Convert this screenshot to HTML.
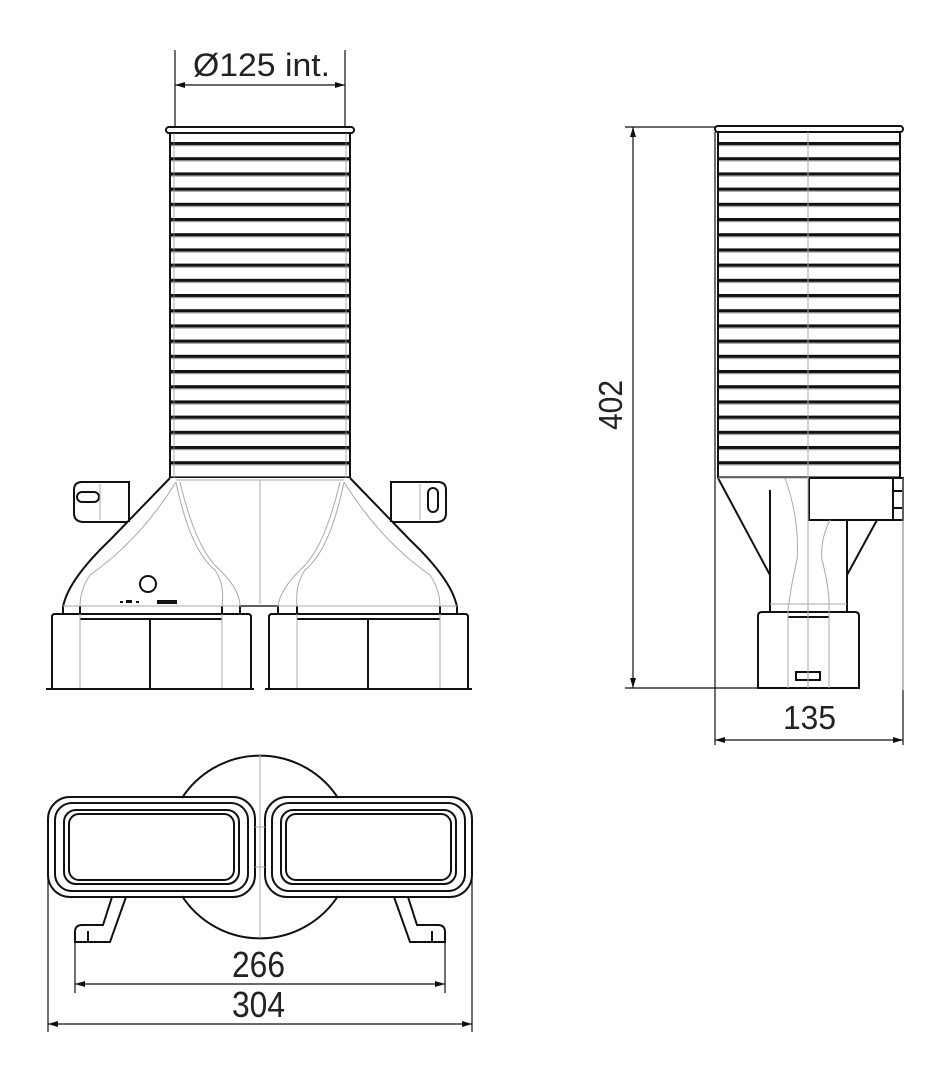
<!DOCTYPE html>
<html><head><meta charset="utf-8"><style>
html,body{margin:0;padding:0;background:#fff}
svg{display:block}
text{font-family:"Liberation Sans","DejaVu Sans",sans-serif;fill:#222}
</style></head><body>
<svg width="950" height="1080" viewBox="0 0 950 1080" xmlns="http://www.w3.org/2000/svg">
<defs>
<pattern id="rib" x="0" y="142" width="400" height="15.2" patternUnits="userSpaceOnUse">
<rect x="0" y="0" width="400" height="3" fill="#111"/>
<rect x="0" y="3" width="400" height="1.2" fill="#999"/>
</pattern>
<marker id="ar" viewBox="0 0 10 10" refX="10" refY="5" markerWidth="12" markerHeight="10" orient="auto-start-reverse" markerUnits="userSpaceOnUse">
<path d="M0,2 L10,5 L0,8 z" fill="#111"/>
</marker>
</defs>
<g fill="none" stroke="#111" stroke-width="1.2">
<line x1="175" y1="50" x2="175" y2="128"/>
<line x1="345" y1="50" x2="345" y2="128"/>
<line x1="175" y1="85" x2="345" y2="85" marker-start="url(#ar)" marker-end="url(#ar)"/>
<line x1="625" y1="127" x2="715" y2="127"/>
<line x1="625" y1="688" x2="760" y2="688"/>
<line x1="633" y1="127" x2="633" y2="688" marker-start="url(#ar)" marker-end="url(#ar)"/>
<line x1="715" y1="132" x2="715" y2="745"/>
<line x1="903" y1="520" x2="903" y2="745"/>
<line x1="715" y1="740" x2="903" y2="740" marker-start="url(#ar)" marker-end="url(#ar)"/>
<line x1="75" y1="942" x2="75" y2="993"/>
<line x1="445" y1="942" x2="445" y2="993"/>
<line x1="75" y1="984" x2="445" y2="984" marker-start="url(#ar)" marker-end="url(#ar)"/>
<line x1="48" y1="840" x2="48" y2="1032"/>
<line x1="472" y1="840" x2="472" y2="1032"/>
<line x1="48" y1="1024" x2="472" y2="1024" marker-start="url(#ar)" marker-end="url(#ar)"/>
</g>
<text x="193" y="76" font-size="32" textLength="137" lengthAdjust="spacingAndGlyphs">Ø125 int.</text>
<text x="783" y="729" font-size="33" textLength="53" lengthAdjust="spacingAndGlyphs">135</text>
<text x="232" y="977" font-size="36" textLength="53" lengthAdjust="spacingAndGlyphs">266</text>
<text x="232" y="1017" font-size="36" textLength="53" lengthAdjust="spacingAndGlyphs">304</text>
<text transform="translate(622,430) rotate(-90)" font-size="33" textLength="50" lengthAdjust="spacingAndGlyphs">402</text>

<!-- FRONT VIEW pipe -->
<rect x="170" y="132" width="180" height="346" fill="url(#rib)"/>
<g fill="none" stroke="#111" stroke-width="2">
<rect x="166" y="127" width="188" height="6" rx="3"/>
<line x1="170" y1="133" x2="170" y2="478"/>
<line x1="350" y1="133" x2="350" y2="478"/>
</g>
<g stroke="#999" stroke-width="0.8" fill="none">
<line x1="174" y1="133" x2="174" y2="478"/><line x1="346" y1="133" x2="346" y2="478"/>
</g>
<g fill="none" stroke="#111" stroke-width="2">
<path d="M170,478 L110,540 Q68,580 63,607 L63,614"/>
<path d="M350,478 L410,540 Q452,580 457,607 L457,614"/>
<path d="M130,482 L82,482 Q74,482 74,490 L74,513 Q74,522 84,522 L128,522"/>
<path d="M390,482 L438,482 Q446,482 446,490 L446,513 Q446,522 436,522 L392,522"/>
<rect x="77" y="492" width="22" height="10" rx="5"/>
<rect x="428" y="488" width="10" height="24" rx="5"/>
<line x1="129" y1="482" x2="129" y2="522"/><line x1="391" y1="482" x2="391" y2="522"/>
<circle cx="148" cy="584" r="8"/>
<path d="M240,613 L240,606 L278,606 L278,613"/>
<line x1="80" y1="606" x2="80" y2="614"/><line x1="222" y1="606" x2="222" y2="614"/>
<line x1="297" y1="606" x2="297" y2="614"/><line x1="440" y1="606" x2="440" y2="614"/>
<path d="M52,690 L52,617 Q52,614 55,614 L248,614 Q251,614 251,617 L251,690"/>
<path d="M269,690 L269,617 Q269,614 272,614 L465,614 Q468,614 468,617 L468,690"/>
<line x1="46" y1="689" x2="254" y2="689"/><line x1="265" y1="689" x2="472" y2="689"/>
<line x1="150" y1="618" x2="150" y2="688"/><line x1="368" y1="618" x2="368" y2="688"/>
<line x1="80" y1="619" x2="222" y2="619"/><line x1="297" y1="619" x2="440" y2="619"/>
</g>
<g fill="none" stroke="#aaa" stroke-width="1">
<line x1="63" y1="606" x2="457" y2="606"/>
<line x1="260" y1="480" x2="260" y2="604"/>
<path d="M176,480 L344,480"/>
<path d="M176,482 Q140,540 90,575 Q80,590 80,606"/>
<path d="M344,482 Q380,540 430,575 Q440,590 440,606"/>
<path d="M176,482 Q190,550 215,570 Q225,585 222,606"/>
<path d="M344,482 Q330,550 305,570 Q295,585 297,606"/>
<path d="M180,482 Q196,550 220,570 Q240,590 240,606"/>
<path d="M340,482 Q324,550 300,570 Q280,590 278,606"/>
<line x1="80" y1="614" x2="80" y2="688"/><line x1="222" y1="614" x2="222" y2="688"/>
<line x1="297" y1="614" x2="297" y2="688"/><line x1="440" y1="614" x2="440" y2="688"/>
<line x1="100" y1="484" x2="100" y2="520"/><line x1="420" y1="484" x2="420" y2="520"/>
</g>
<g fill="#111"><rect x="120" y="601" width="3" height="2"/><rect x="126" y="600" width="6" height="3"/><rect x="136" y="601" width="3" height="2"/><rect x="157" y="600" width="20" height="4"/></g>

<!-- SIDE VIEW -->
<rect x="718" y="132" width="182" height="346" fill="url(#rib)"/>
<g fill="none" stroke="#111" stroke-width="2">
<rect x="715" y="126" width="188" height="6" rx="3"/>
<line x1="718" y1="132" x2="718" y2="478"/>
<line x1="900" y1="132" x2="900" y2="478"/>
<path d="M718,478 L770,575 L770,612"/>
<path d="M770,575 L770,490"/>
<path d="M847,520 L847,612 M847,575 L877,520"/>
<rect x="809" y="478" width="94" height="42"/>
<line x1="893" y1="478" x2="893" y2="520"/>
<line x1="893" y1="491" x2="903" y2="491"/><line x1="893" y1="508" x2="903" y2="508"/>
<path d="M758,688 L758,616 Q758,612 762,612 L855,612 Q859,612 859,616 L859,688 Z"/>
<line x1="788" y1="617" x2="829" y2="617"/>
<rect x="796" y="672" width="24" height="8"/>
</g>
<g fill="none" stroke="#aaa" stroke-width="1">
<line x1="808" y1="132" x2="808" y2="688"/>
<line x1="718" y1="478" x2="809" y2="478"/>
<path d="M785,478 Q800,520 797,560 Q790,590 788,612 L788,688"/>
<path d="M830,520 Q820,540 822,560 Q830,590 829,612 L829,688"/>
<line x1="770" y1="604" x2="847" y2="604"/>
<line x1="903" y1="478" x2="903" y2="690"/>
</g>

<!-- BOTTOM VIEW -->
<g fill="none" stroke="#111" stroke-width="2">
<path d="M182,798 A93,93 0 0 1 338,798"/>
<path d="M182,896 A93,93 0 0 0 338,896"/>
<rect x="48" y="797" width="207" height="100" rx="22"/>
<rect x="55" y="803" width="193" height="88" rx="17"/>
<rect x="64" y="810" width="175" height="74" rx="12"/>
<rect x="69" y="814" width="165" height="66" rx="10"/>
<rect x="265" y="797" width="207" height="100" rx="22"/>
<rect x="272" y="803" width="193" height="88" rx="17"/>
<rect x="281" y="810" width="175" height="74" rx="12"/>
<rect x="286" y="814" width="165" height="66" rx="10"/>
<path d="M112,897 L103,925 L82,925 Q75,925 75,932 L75,942 L110,942 L126,897"/>
<line x1="88" y1="931" x2="88" y2="942"/>
<path d="M408,897 L417,925 L438,925 Q445,925 445,932 L445,942 L410,942 L394,897"/>
<line x1="432" y1="931" x2="432" y2="942"/>
</g>
<g fill="none" stroke="#aaa" stroke-width="1">
<line x1="260" y1="755" x2="260" y2="938"/>
<line x1="255" y1="827" x2="265" y2="827"/><line x1="255" y1="867" x2="265" y2="867"/>
</g>
</svg>
</body></html>
